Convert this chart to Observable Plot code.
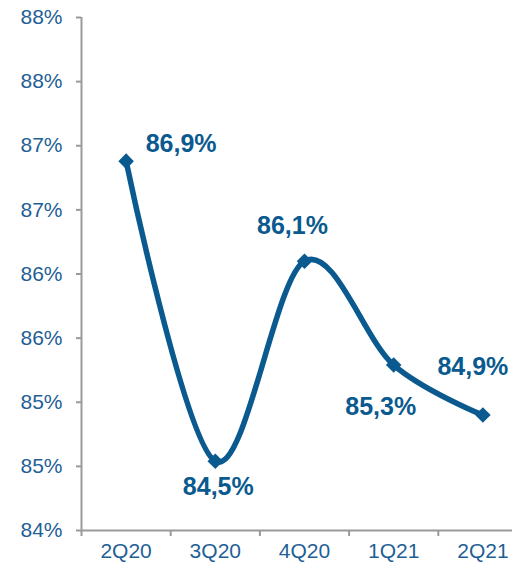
<!DOCTYPE html>
<html>
<head>
<meta charset="utf-8">
<script src="https://cdn.jsdelivr.net/npm/d3@7"></script>
<script src="https://cdn.jsdelivr.net/npm/@observablehq/plot@0.6"></script>
<style>
  html, body { margin: 0; padding: 0; background: #fff; }
  #chart svg { display: block; font-family: "Liberation Sans", Arial, sans-serif; }
</style>
</head>
<body>
<div id="chart"></div>
<script>
const categories = ["2Q20", "3Q20", "4Q20", "1Q21", "2Q21"];
const values = [86.88, 84.54, 86.1, 85.29, 84.9];
const yTicks = [84, 84.5, 85, 85.5, 86, 86.5, 87, 87.5, 88];
const yTickLabels = ["84%", "85%", "85%", "86%", "86%", "87%", "87%", "88%", "88%"];

const data = categories.map((c, i) => ({ i, c, v: values[i] }));
const fmt = v => v.toFixed(1).replace(".", ",") + "%";

// label offsets (px) relative to each point
const labelOffsets = [[55, -17], [3, 26], [-12, -35], [-13, 42], [-10, -48]];

const lineColor = "#0A5A8F";
const axisColor = "#9A9A9A";
const tickText = "#1F5F96";

const chart = Plot.plot({
  width: 512,
  height: 565,
  marginLeft: 81,
  marginRight: -15,
  marginTop: 17,
  marginBottom: 35,
  style: { fontFamily: '"Liberation Sans", Arial, sans-serif', background: "#fff" },
  x: { type: "linear", domain: [-0.5, 4.5] },
  y: { domain: [84, 88] },
  marks: [
    Plot.ruleX([-0.5], { y1: 84, y2: 88, stroke: axisColor, strokeWidth: 2 }),
    Plot.ruleY([84], { stroke: axisColor, strokeWidth: 2 }),
    Plot.axisY({
      ticks: yTicks,
      tickFormat: (d) => yTickLabels[yTicks.indexOf(d)],
      tickSize: 5,
      tickPadding: 14,
      stroke: axisColor,
      strokeWidth: 2,
      fill: tickText,
      fontSize: 21,
      label: null
    }),
    Plot.axisX({
      ticks: [-0.5, 0.5, 1.5, 2.5, 3.5],
      tickSize: 6,
      stroke: axisColor,
      strokeWidth: 2,
      tickFormat: () => "",
      label: null
    }),
    Plot.axisX({
      ticks: [0, 1, 2, 3, 4],
      tickSize: 0,
      tickPadding: 13,
      tickFormat: (d) => categories[d],
      fill: tickText,
      fontSize: 21,
      label: null
    }),
    Plot.line(data, {
      x: "i", y: "v",
      curve: "cardinal",
      stroke: lineColor,
      strokeWidth: 5.5
    }),
    Plot.dot(data, {
      x: "i", y: "v",
      symbol: "diamond2",
      r: 7,
      fill: lineColor,
      stroke: "none"
    }),
    ...data.map((d, k) => Plot.text([d], {
      x: "i", y: "v",
      text: (d) => fmt(d.v),
      dx: labelOffsets[k][0],
      dy: labelOffsets[k][1],
      fill: lineColor,
      fontSize: 25,
      fontWeight: "bold"
    }))
  ]
});
document.getElementById("chart").append(chart);
</script>
</body>
</html>
